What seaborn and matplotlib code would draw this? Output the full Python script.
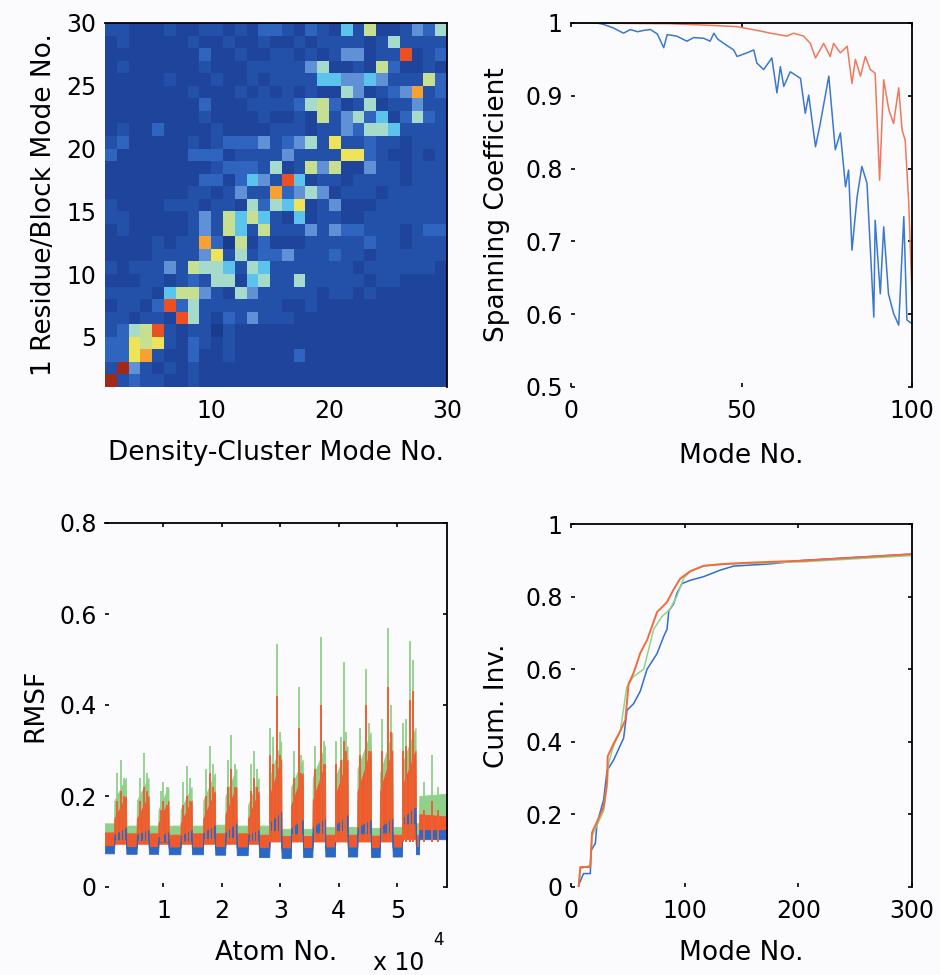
import numpy as np
import pandas as pd
import matplotlib
matplotlib.use("Agg")
import matplotlib.pyplot as plt
import seaborn as sns
from matplotlib.colors import LinearSegmentedColormap
from matplotlib.ticker import FuncFormatter

# ------------------------------------------------------------------ data
# Panel A: mode-overlap matrix, intensity level 0..11, rows listed from
# Residue/Block mode 29 (top) down to mode 1 (bottom); columns = density-cluster modes 1..29
overlap_rows_top_down = [
    [2,2,1,1,1,2,1,1,2,2,1,2,1,3,3,2,1,3,2,1,5,2,7,1,1,2,4,3,6],
    [1,2,1,1,1,1,1,2,1,1,2,1,1,2,1,1,2,1,2,2,2,2,1,2,6,2,2,2,2],
    [1,1,1,1,1,1,1,1,3,1,1,2,1,1,2,2,1,2,1,2,4,4,1,2,2,10,1,2,3],
    [1,2,1,1,1,1,1,1,2,1,1,1,2,2,2,2,2,4,6,1,1,2,1,7,3,1,1,2,1],
    [1,1,1,1,1,2,1,1,1,2,1,1,2,1,2,2,2,2,5,5,4,4,5,4,2,2,2,7,3],
    [1,1,1,1,1,1,1,2,1,1,1,2,1,2,1,2,1,2,1,1,6,4,1,2,3,4,9,2,3],
    [1,1,1,1,1,1,1,1,3,1,1,1,2,2,2,2,3,6,7,3,1,2,6,1,2,2,4,2,2],
    [1,1,1,1,1,1,1,1,2,1,1,1,1,2,1,1,2,1,7,2,4,6,3,5,1,3,6,3,2],
    [1,2,1,1,3,1,1,1,1,2,1,1,1,1,2,2,2,1,2,2,4,3,6,6,5,2,2,2,2],
    [2,3,1,1,1,1,1,2,1,2,3,3,3,4,2,3,4,6,2,8,2,2,3,2,2,1,2,2,2],
    [3,1,1,1,1,1,1,3,3,3,1,2,2,2,2,4,2,2,2,2,8,8,3,2,1,1,2,1,2],
    [1,1,1,1,1,1,1,1,1,2,3,3,3,2,6,1,2,7,4,7,1,1,4,2,2,1,2,2,2],
    [1,1,1,1,1,1,1,1,3,3,1,3,5,4,2,10,5,1,2,2,1,2,2,2,2,1,2,2,2],
    [1,1,1,1,1,1,1,2,2,1,2,4,2,2,9,3,4,6,4,1,2,2,2,1,2,2,2,2,2],
    [2,1,1,1,1,2,2,2,1,2,2,1,6,3,6,5,8,1,2,4,1,1,1,2,2,2,2,2,2],
    [2,2,1,1,1,1,1,2,4,2,7,5,7,5,2,1,5,1,2,2,1,1,2,2,2,2,2,2,2],
    [1,2,1,1,1,1,1,2,4,2,7,5,2,7,2,2,2,4,2,4,3,3,2,2,2,1,2,3,3],
    [1,1,1,1,2,1,2,2,9,3,0,7,1,3,1,1,1,2,2,2,2,2,3,2,2,1,2,2,2],
    [1,1,1,1,2,2,2,2,4,8,2,6,2,3,3,4,2,2,2,3,2,2,1,2,2,2,2,2,2],
    [2,1,2,2,2,4,2,7,6,6,5,2,6,5,2,2,2,2,2,2,2,1,2,2,2,2,2,2,1],
    [1,1,1,2,2,1,2,3,2,6,6,1,5,6,2,2,6,2,2,2,2,2,1,2,2,1,1,1,1],
    [2,2,2,2,1,5,7,7,4,2,1,6,4,2,2,2,2,2,1,2,2,1,2,1,1,1,1,1,1],
    [1,2,2,1,3,10,3,6,2,2,2,2,2,2,2,1,1,2,1,1,1,1,1,1,1,1,1,1,1],
    [2,2,1,2,2,1,10,6,2,1,3,2,4,2,2,2,1,1,1,1,1,1,1,1,1,1,1,1,1],
    [2,3,6,7,10,2,1,2,2,0,2,1,1,1,1,1,1,1,1,1,1,1,1,1,1,1,1,1,1],
    [3,3,8,7,8,2,1,3,2,1,2,1,1,1,1,1,1,1,1,1,1,1,1,1,1,1,1,1,1],
    [3,3,8,9,2,1,1,3,1,1,2,1,1,1,1,1,3,1,1,1,1,1,1,1,1,1,1,1,1],
    [2,11,4,2,1,2,1,2,1,1,1,1,1,1,1,1,1,1,1,1,1,1,1,1,1,1,1,1,1],
    [11,2,3,2,2,1,1,2,1,1,1,1,1,1,1,1,1,1,1,1,1,1,1,1,1,1,1,1,1],
]
overlap_level_colors = ["#1a3c8f", "#1e449c", "#2350a9", "#2f66bf", "#6090d6", "#5cc4ec",
                        "#a6dbcc", "#c6df8f", "#eee65a", "#f5a332", "#ec4f24", "#a3281a"]
heat_xticks = [10, 20, 30]
heat_yticks = [5, 10, 15, 20, 25, 30]

# Panel B: spanning coefficient
span_blue_mode = [1, 5, 7.6, 9.6, 12.5, 15.4, 17.4, 19.5, 21.5, 23.3,
                  25.3, 27.2, 28.2, 31, 34, 36, 38.9, 40.8, 41.9, 43,
                  44.8, 47.7, 48.7, 51.6, 53.6, 54.5, 56.5, 58.9, 60.4, 61.4,
                  62.4, 64.3, 67.3, 68.7, 69.7, 71.7, 73.1, 75.6, 77.5, 79,
                  80.5, 81.4, 82.4, 83.9, 85.3, 86.8, 88.8, 89.2, 90.7, 91.7,
                  93.1, 94.6, 96.1, 97.6, 98.5, 100]
span_blue_val = [1.0, 1.0, 1.0, 0.998, 0.993, 0.986, 0.991, 0.988, 0.990, 0.991,
                 0.985, 0.966, 0.984, 0.982, 0.975, 0.980, 0.979, 0.975, 0.986, 0.978,
                 0.972, 0.963, 0.954, 0.959, 0.963, 0.945, 0.936, 0.952, 0.904, 0.940,
                 0.913, 0.933, 0.924, 0.876, 0.901, 0.830, 0.862, 0.927, 0.826, 0.849,
                 0.775, 0.798, 0.688, 0.761, 0.803, 0.780, 0.596, 0.729, 0.628, 0.720,
                 0.628, 0.601, 0.585, 0.734, 0.592, 0.587]
span_red_mode = [1, 29, 40, 48.7, 55.5, 58.5, 63.3, 65.3, 68.2, 70.2,
                 71.7, 74.1, 76, 77, 79, 81, 82.4, 83.4, 84.9, 86.3,
                 87.8, 89.2, 90.5, 91.7, 93.2, 94.6, 96.1, 97.1, 98, 99, 100]
span_red_val = [1.0, 0.999, 0.997, 0.995, 0.989, 0.986, 0.982, 0.986, 0.982, 0.972,
                0.952, 0.972, 0.954, 0.972, 0.959, 0.968, 0.917, 0.950, 0.927, 0.954,
                0.936, 0.931, 0.784, 0.922, 0.881, 0.862, 0.911, 0.853, 0.839, 0.757, 0.628]

# Panel C: RMSF per atom (read as envelopes of the dense traces)
hump_start = [1600, 5460, 9150, 12950, 16810, 20610, 24470, 28160, 31850, 35530, 39390, 43190, 47050, 50850]
hump_end = [3590, 7450, 10850, 14820, 18800, 22480, 26290, 30140, 33830, 37630, 41490, 45460, 49150, 53120]

blue_valley_lo = [0.074, 0.073, 0.073, 0.072, 0.072, 0.071, 0.070, 0.066, 0.064, 0.066, 0.067, 0.067, 0.066, 0.067]
blue_valley_hi = [0.090, 0.088, 0.088, 0.087, 0.087, 0.088, 0.087, 0.086, 0.085, 0.086, 0.087, 0.087, 0.086, 0.087]
blue_hump_lo = [0.105, 0.103, 0.100, 0.102, 0.108, 0.110, 0.103, 0.125, 0.118, 0.120, 0.125, 0.118, 0.120, 0.140]
blue_hump_top0 = [0.115, 0.115, 0.110, 0.112, 0.118, 0.120, 0.115, 0.140, 0.130, 0.130, 0.135, 0.130, 0.130, 0.150]
blue_hump_top1 = [0.130, 0.125, 0.120, 0.125, 0.135, 0.140, 0.125, 0.165, 0.147, 0.150, 0.158, 0.147, 0.150, 0.175]

red_valley_lo = [0.085, 0.085, 0.084, 0.084, 0.084, 0.083, 0.083, 0.080, 0.078, 0.079, 0.080, 0.080, 0.079, 0.080]
red_valley_hi = [0.120, 0.118, 0.118, 0.115, 0.118, 0.118, 0.118, 0.115, 0.112, 0.112, 0.115, 0.115, 0.113, 0.115]
red_hump_lo = [0.095, 0.095, 0.095, 0.095, 0.095, 0.095, 0.095, 0.100, 0.100, 0.100, 0.100, 0.100, 0.100, 0.105]
red_hump_top0 = [0.15, 0.15, 0.14, 0.14, 0.15, 0.16, 0.15, 0.20, 0.18, 0.19, 0.20, 0.21, 0.21, 0.22]
red_hump_top1 = [0.20, 0.20, 0.19, 0.19, 0.21, 0.22, 0.21, 0.28, 0.25, 0.27, 0.28, 0.30, 0.30, 0.30]

green_valley_lo = [0.090, 0.090, 0.090, 0.090, 0.090, 0.090, 0.090, 0.088, 0.086, 0.087, 0.088, 0.088, 0.087, 0.088]
green_valley_hi = [0.140, 0.135, 0.135, 0.135, 0.135, 0.137, 0.135, 0.135, 0.128, 0.128, 0.132, 0.132, 0.130, 0.132]
green_hump_lo = [0.100, 0.100, 0.100, 0.100, 0.100, 0.100, 0.100, 0.105, 0.105, 0.105, 0.105, 0.105, 0.105, 0.110]
green_hump_top0 = [0.19, 0.19, 0.17, 0.17, 0.19, 0.20, 0.18, 0.24, 0.22, 0.24, 0.24, 0.26, 0.25, 0.27]
green_hump_top1 = [0.24, 0.24, 0.22, 0.22, 0.25, 0.26, 0.24, 0.32, 0.28, 0.31, 0.31, 0.34, 0.34, 0.35]

# tail region (after the last domain): dip then flat plateau
tail_x = [53200, 53700, 53760, 58500]
blue_tail_lo = [0.072, 0.072, 0.105, 0.105]
blue_tail_hi = [0.088, 0.088, 0.125, 0.125]
red_tail_lo = [0.085, 0.085, 0.120, 0.120]
red_tail_hi = [0.115, 0.115, 0.160, 0.155]
green_tail_lo = [0.090, 0.090, 0.125, 0.125]
green_tail_hi = [0.140, 0.140, 0.200, 0.205]

spike_atom = [2100, 2740, 3300, 6000, 6710, 7200, 9600, 10000, 10600, 13400, 13970, 14500,
              17300, 17940, 18500, 21000, 21630, 22200, 25000, 25430, 26000,
              28160, 28700, 29460, 29900, 32300, 33150, 33600, 36000, 36950, 37400,
              39500, 40300, 40810, 41200, 43600, 44600, 45100, 47400, 48470, 48900,
              51000, 51500, 52100, 52600, 54500, 55900, 57000]
spike_green = [0.25, 0.28, 0.24, 0.24, 0.295, 0.25, 0.21, 0.23, 0.22, 0.23, 0.265, 0.24,
               0.26, 0.31, 0.27, 0.28, 0.335, 0.27, 0.27, 0.30, 0.26,
               0.35, 0.33, 0.535, 0.34, 0.30, 0.44, 0.29, 0.31, 0.55, 0.32,
               0.32, 0.33, 0.495, 0.34, 0.35, 0.48, 0.36, 0.37, 0.57, 0.40,
               0.36, 0.37, 0.54, 0.50, 0.23, 0.29, 0.22]
spike_red = [0.19, 0.21, 0.20, 0.19, 0.22, 0.21, 0.17, 0.19, 0.18, 0.18, 0.20, 0.19,
             0.20, 0.25, 0.22, 0.22, 0.26, 0.22, 0.21, 0.24, 0.22,
             0.29, 0.27, 0.42, 0.29, 0.24, 0.35, 0.25, 0.26, 0.40, 0.27,
             0.27, 0.28, 0.32, 0.30, 0.29, 0.40, 0.30, 0.30, 0.44, 0.34,
             0.30, 0.31, 0.41, 0.43, 0.17, 0.19, 0.17]
rmsf_xticks = [10000, 20000, 30000, 40000, 50000]
rmsf_xticklabels = ["1", "2", "3", "4", "5"]

# Panel D: cumulative inverse
cum_red_mode = [6.7, 8.2, 17, 18.5, 22.9, 28.7, 31.7, 32.3, 37.5, 43.4, 47.8, 50.7, 55.1,
                61, 66.9, 75.7, 84.5, 90.3, 96.2, 105, 116.7, 134.3, 160.7, 204.7, 300]
cum_red_val = [0, 0.055, 0.055, 0.15, 0.18, 0.22, 0.29, 0.36, 0.395, 0.43, 0.46, 0.56, 0.59,
               0.645, 0.68, 0.757, 0.785, 0.82, 0.85, 0.87, 0.885, 0.89, 0.894, 0.899, 0.917]
cum_green_mode = [6.7, 8.2, 17, 18.5, 22.9, 28.7, 31.7, 33, 37.5, 43.4, 49, 55, 64, 72.7,
                  80, 87, 93, 99, 105, 116.7, 134.3, 160.7, 204.7, 300]
cum_green_val = [0, 0.05, 0.06, 0.14, 0.17, 0.21, 0.275, 0.34, 0.39, 0.43, 0.55, 0.58, 0.6, 0.71,
                 0.745, 0.765, 0.8, 0.85, 0.87, 0.884, 0.889, 0.892, 0.896, 0.913]
cum_blue_mode = [6.7, 11, 17, 17.6, 21.4, 22.9, 28.7, 31.7, 37.5, 46.3, 49.3, 55.1, 61, 66.9,
                 75.7, 81.5, 84.5, 86, 90.3, 93.3, 97.7, 105, 116.7, 131.4, 143, 175, 204.7, 300]
cum_blue_val = [0.005, 0.037, 0.037, 0.1, 0.12, 0.175, 0.24, 0.32, 0.35, 0.41, 0.487, 0.505,
                0.54, 0.6, 0.643, 0.69, 0.71, 0.76, 0.78, 0.81, 0.836, 0.845, 0.855, 0.873,
                0.884, 0.89, 0.9, 0.917]

# ------------------------------------------------------------------ style
sns.set_theme(style="ticks")
plt.rcParams["font.family"] = ["DejaVu Sans"]
plt.rcParams["axes.labelcolor"] = "black"
plt.rcParams["text.color"] = "black"
plt.rcParams["xtick.color"] = "black"
plt.rcParams["ytick.color"] = "black"
BG = "#fbfbfd"
C_BLUE = "#2a68c8"
C_RED = "#f1592b"
C_GREEN = "#8fd08a"
TICK_FS = 17
LAB_FS = 19

fig = plt.figure(figsize=(9.4, 9.75), dpi=100, facecolor=BG)
W, H = 940.0, 975.0


def rect(l, r, t, b):
    return [l / W, 1 - b / H, (r - l) / W, (b - t) / H]


ax_a = fig.add_axes(rect(105, 447, 23, 387))
ax_b = fig.add_axes(rect(571, 912, 23, 387))
ax_c = fig.add_axes(rect(105, 447, 523, 887))
ax_d = fig.add_axes(rect(571, 912, 524, 887))

fmt = FuncFormatter(lambda v, p: f"{round(v, 3):g}")


def style(ax):
    ax.set_facecolor(BG)
    for s in ["top", "right"]:
        ax.spines[s].set_visible(True)
        ax.spines[s].set_linewidth(1.3)
        ax.spines[s].set_color("black")
    for s in ["left", "bottom"]:
        ax.spines[s].set_visible(False)
    ax.tick_params(direction="in", length=3, width=1.2, labelsize=TICK_FS,
                   top=True, right=True, labeltop=False, labelright=False, colors="black")
    ax.tick_params(axis="x", pad=9)
    ax.tick_params(axis="y", pad=6)


# ---- Panel A: heatmap
heat = pd.DataFrame(overlap_rows_top_down[::-1], index=range(1, 30), columns=range(1, 30))
cmap = LinearSegmentedColormap.from_list("washed_jet", overlap_level_colors, N=256)
sns.heatmap(heat, ax=ax_a, cmap=cmap, vmin=0, vmax=len(overlap_level_colors) - 1,
            cbar=False, xticklabels=False, yticklabels=False, linewidths=0)
ax_a.invert_yaxis()
ax_a.set_xticks([t - 1 for t in heat_xticks])
ax_a.set_xticklabels([str(t) for t in heat_xticks])
ax_a.set_yticks([t - 1 for t in heat_yticks])
ax_a.set_yticklabels([str(t) for t in heat_yticks], rotation=0)
style(ax_a)
ax_a.tick_params(length=0)
ax_a.set_xlabel("Density-Cluster Mode No.", fontsize=LAB_FS, labelpad=12, color="black")
ax_a.set_ylabel("1 Residue/Block Mode No.", fontsize=LAB_FS, labelpad=7, color="black")

# ---- Panel B: spanning coefficient
sns.lineplot(x=span_red_mode, y=span_red_val, ax=ax_b, color="#f2775a", lw=1.1,
             estimator=None, sort=False)
sns.lineplot(x=span_blue_mode, y=span_blue_val, ax=ax_b, color="#3a78d0", lw=1.1,
             estimator=None, sort=False)
ax_b.set_xlim(0, 100)
ax_b.set_ylim(0.5, 1.0)
ax_b.set_xticks([0, 50, 100])
ax_b.set_yticks([0.5, 0.6, 0.7, 0.8, 0.9, 1.0])
ax_b.yaxis.set_major_formatter(fmt)
style(ax_b)
ax_b.set_xlabel("Mode No.", fontsize=LAB_FS, labelpad=14, color="black")
ax_b.set_ylabel("Spanning Coefficient", fontsize=LAB_FS, labelpad=11, color="black")


# ---- Panel C: RMSF
def envelope(v_lo, v_hi, h_lo, h_t0, h_t1, t_lo, t_hi):
    xs, lo, hi = [], [], []
    prev = 0
    for k in range(len(hump_start)):
        xs += [prev, hump_start[k] - 60, hump_start[k], hump_end[k]]
        lo += [v_lo[k], v_lo[k], h_lo[k], h_lo[k]]
        hi += [v_hi[k], v_hi[k], h_t0[k], h_t1[k]]
        prev = hump_end[k] + 60
    xs += tail_x
    lo += t_lo
    hi += t_hi
    return xs, lo, hi


gx, glo, ghi = envelope(green_valley_lo, green_valley_hi, green_hump_lo, green_hump_top0,
                        green_hump_top1, green_tail_lo, green_tail_hi)
rx, rlo, rhi = envelope(red_valley_lo, red_valley_hi, red_hump_lo, red_hump_top0,
                        red_hump_top1, red_tail_lo, red_tail_hi)
bx, blo, bhi = envelope(blue_valley_lo, blue_valley_hi, blue_hump_lo, blue_hump_top0,
                        blue_hump_top1, blue_tail_lo, blue_tail_hi)

ax_c.fill_between(gx, glo, ghi, color=C_GREEN, lw=0.6, edgecolor=C_GREEN)
ax_c.vlines(spike_atom, 0.1, spike_green, color=C_GREEN, lw=1.3)
ax_c.fill_between(rx, rlo, rhi, color=C_RED, lw=0.6, edgecolor=C_RED)
ax_c.vlines(spike_atom, 0.1, spike_red, color=C_RED, lw=1.3)
ax_c.fill_between(bx, blo, bhi, color=C_BLUE, lw=0.6, edgecolor=C_BLUE)
ax_c.set_xlim(0, 58500)
ax_c.set_ylim(0, 0.8)
ax_c.set_xticks(rmsf_xticks)
ax_c.set_xticklabels(rmsf_xticklabels)
ax_c.set_yticks([0, 0.2, 0.4, 0.6, 0.8])
ax_c.yaxis.set_major_formatter(fmt)
style(ax_c)
ax_c.set_xlabel("Atom No.", fontsize=LAB_FS, labelpad=12, color="black")
ax_c.set_ylabel("RMSF", fontsize=LAB_FS, labelpad=8, color="black")
ax_c.text(0.785, -0.21, "x 10", transform=ax_c.transAxes, fontsize=TICK_FS,
          ha="left", va="center", color="black")
ax_c.text(0.975, -0.145, "4", transform=ax_c.transAxes, fontsize=12,
          ha="center", va="center", color="black")

# ---- Panel D: cumulative
sns.lineplot(x=cum_blue_mode, y=cum_blue_val, ax=ax_d, color="#2f6fd0", lw=1.1,
             estimator=None, sort=False)
sns.lineplot(x=cum_green_mode, y=cum_green_val, ax=ax_d, color="#8fd48a", lw=1.1,
             estimator=None, sort=False)
sns.lineplot(x=cum_red_mode, y=cum_red_val, ax=ax_d, color="#f26a40", lw=1.4,
             estimator=None, sort=False)
ax_d.set_xlim(0, 300)
ax_d.set_ylim(0, 1)
ax_d.set_xticks([0, 100, 200, 300])
ax_d.set_yticks([0, 0.2, 0.4, 0.6, 0.8, 1.0])
ax_d.yaxis.set_major_formatter(fmt)
style(ax_d)
ax_d.set_xlabel("Mode No.", fontsize=LAB_FS, labelpad=12, color="black")
ax_d.set_ylabel("Cum. Inv.", fontsize=LAB_FS, labelpad=11, color="black")

fig.savefig("out.png", dpi=100, facecolor=BG)
